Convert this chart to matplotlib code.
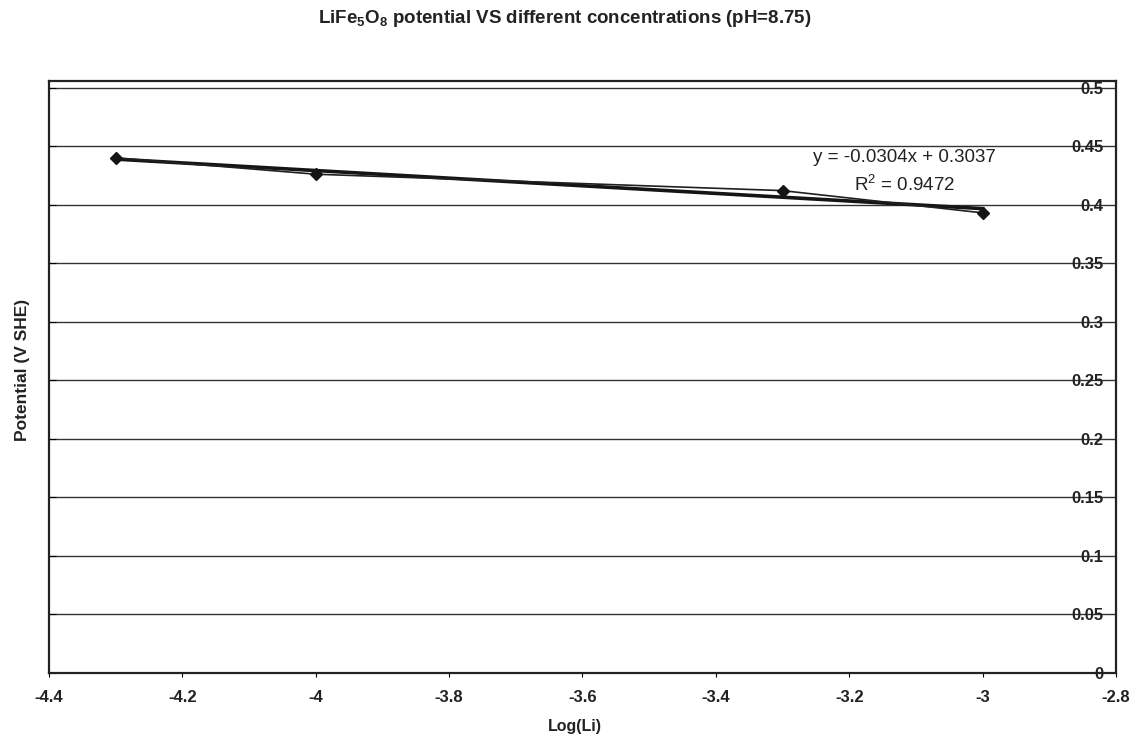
import numpy as np
import matplotlib
matplotlib.use('Agg')
import matplotlib.pyplot as plt

plt.rcParams['font.family'] = ['Liberation Sans', 'DejaVu Sans']
plt.rcParams['mathtext.fontset'] = 'custom'
plt.rcParams['mathtext.rm'] = 'Liberation Sans'
plt.rcParams['mathtext.bf'] = 'Liberation Sans:bold'
plt.rcParams['mathtext.default'] = 'regular'

# data
log_li = [-4.3, -4.0, -3.3, -3.0]
potential = [0.440, 0.426, 0.412, 0.393]
xticks = [-4.4, -4.2, -4.0, -3.8, -3.6, -3.4, -3.2, -3.0, -2.8]
xticklabels = ['-4.4', '-4.2', '-4', '-3.8', '-3.6', '-3.4', '-3.2', '-3', '-2.8']
yticks = [0, 0.05, 0.1, 0.15, 0.2, 0.25, 0.3, 0.35, 0.4, 0.45, 0.5]
yticklabels = ['0', '0.05', '0.1', '0.15', '0.2', '0.25', '0.3', '0.35', '0.4', '0.45', '0.5']
eq_text = 'y = -0.0304x + 0.3037'
r2_text = 'R$^2$ = 0.9472'

fig = plt.figure(figsize=(11.41, 7.35), dpi=100)
ax = fig.add_axes([0.043, 0.0844, 0.935, 0.806])

# gridlines
for yv in yticks[1:]:
    ax.axhline(yv, color='#333333', lw=1.0, zorder=1)

# trendline (linear fit of the points)
coef = np.polyfit(log_li, potential, 1)
xs = np.array([log_li[0], log_li[-1]])
ax.plot(xs, np.polyval(coef, xs), color='#151515', lw=2.6, zorder=3)

# data
ax.plot(log_li, potential, color='#202020', lw=1.2, marker='D', ms=6.5,
        mfc='#151515', mec='#151515', zorder=4)

ax.set_xlim(-4.4, -2.8)
ax.set_ylim(0, 0.506)
ax.set_xticks(xticks)
ax.set_xticklabels(xticklabels, fontsize=12, fontweight='bold', color='#222222')
ax.set_yticks(yticks)
ax.set_yticklabels(yticklabels, fontsize=12, fontweight='bold', color='#222222')
ax.yaxis.tick_right()
ax.tick_params(axis='y', which='both', left=True, right=False, labelleft=False,
               labelright=True, direction='in', length=5, pad=-9)
for lab in ax.get_yticklabels():
    lab.set_horizontalalignment('right')
ax.tick_params(axis='x', direction='out', length=3, pad=9)

for sp in ax.spines.values():
    sp.set_color('#222222')
    sp.set_linewidth(1.6)

ax.text(-3.117, 0.440, eq_text, ha='center', va='center', fontsize=13.5, color='#222222')
ax.text(-3.117, 0.4165, r2_text, ha='center', va='center', fontsize=13.5, color='#222222')

fig.text(0.495, 0.975, 'LiFe$_\\mathbf{5}$O$_\\mathbf{8}$ potential VS different concentrations (pH=8.75)',
         ha='center', va='center', fontsize=13.5, fontweight='bold', color='#222222')
fig.text(0.504, 0.012, 'Log(Li)', ha='center', va='center', fontsize=11.5,
         fontweight='bold', color='#222222')
fig.text(0.020, 0.497, 'Potential (V SHE)', ha='center', va='center', rotation=90,
         fontsize=12.5, fontweight='bold', color='#222222')

fig.savefig('out.png', dpi=100, facecolor='white')
